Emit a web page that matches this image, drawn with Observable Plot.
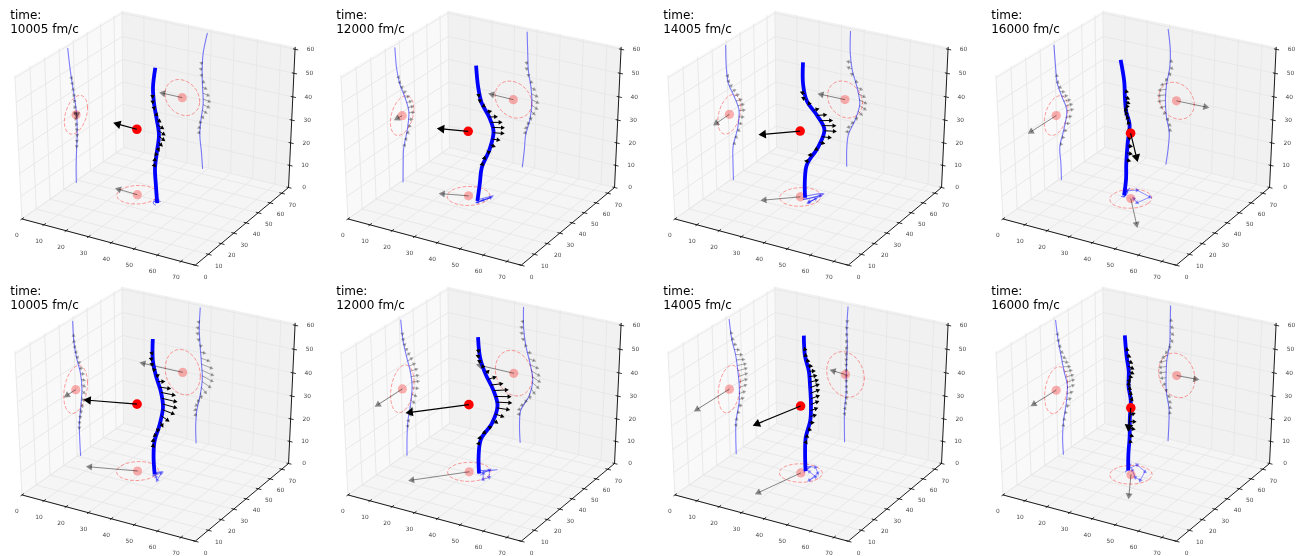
<!DOCTYPE html>
<html><head><meta charset="utf-8">
<script src="https://cdn.jsdelivr.net/npm/d3@7"></script>
<script src="https://cdn.jsdelivr.net/npm/@observablehq/plot@0.6"></script>
<style>
html,body{margin:0;padding:0;background:#fff;}
#stage{position:relative;width:1302px;height:556px;overflow:hidden;}
#stage svg{position:absolute;background:transparent;filter:blur(0.35px);}
</style></head><body><div id="stage"></div>
<script>
const times = ["10005 fm/c","12000 fm/c","14005 fm/c","16000 fm/c","10005 fm/c","12000 fm/c","14005 fm/c","16000 fm/c"];
const xTicks = [0,10,20,30,40,50,60,70];
const yTicks = [0,10,20,30,40,50,60,70];
const zTicks = [0,10,20,30,40,50,60];
const zLevels = [-0.8,7,14,21,28.5,35.5,42.7,50,59];
const stringX = [
 [37.2,36.5,35.7,36.1,37,36.6,36.3,36.6,38.3],
 [34.3,35.1,35.6,37.3,38.2,37.7,36.4,36,35.6],
 [33.1,33,33.7,36.6,38.6,37.3,35,34,34],
 [29,30,30.4,29,28.5,29,30.3,30.5,29.4],
 [34.2,33.9,34.3,35.7,36.6,36.1,35.4,34.9,35.2],
 [33.3,32.9,33.4,37,38.6,37.3,35.3,34.2,34],
 [32.1,31.9,31.9,32.5,32.5,32.6,32.8,32.5,32.9],
 [30,30.3,30.3,29,28.8,29.1,30.3,30.4,30.5]];
const stringY = [
 [39.3,39.5,40.2,41,41,40,38.5,37.2,36],
 [39.8,40.3,41,44,45.5,43,39.5,37.6,36.8],
 [42.4,42.4,42.8,46.6,47.8,44.5,40.6,39.5,39.5],
 [42.4,42.3,41.8,45.3,47.7,44.3,41.2,40.4,39.7],
 [42.5,42.2,42.2,43.7,44.8,44,41.6,40,39.5],
 [42.8,43.2,44.1,46.5,47.9,46.7,44.3,42.2,41],
 [44.5,44.5,45,47.6,48,47.2,45.9,43.5,42],
 [43.9,43.6,44.6,47,48.1,45.9,44.1,42.3,40.9]];
const redX = [27.5,29.8,31.9,33.5,27.7,30,32.1,33.6];
const redY = [40.5,40.6,40.8,39.9,40.3,40.8,40.8,39.9];
const redZ = [29,28.6,29.1,28.9,29.6,29.7,29.6,29.5];
const velX = [-8.75,-9.7,-10.7,13,-18.1,-15.5,-5.4,8.4];
const velY = [0.5,-3.5,-9.5,-18,-6.2,-17.5,-23,-16];
const velZ = [0,0.2,-0.1,0.2,0,0.1,0.4,0.3];
const radX = [7.9,8.3,7.9,8,8,8.4,8.5,8.2];
const radY = [8.5,8.6,8.5,8.7,8.7,8.6,8.2,8.4];
const radZ = [7.8,8,8,8,9.9,9.9,9.9,9.7];
const arrowZTop = [15.3,17.8,20.3,22.9,25.4,28,30.5,33,35.6,38.1,40.7,43.2,45.8];
const arrowZBottom = [12.2,14.7,17.3,19.8,22.4,24.9,27.5,30,32.5,35.1,37.6,40.2,42.7,45.2,47.8,50.3,52.9];
const arrowX = [
 [-.5,-.6,-.3,.6,1.6,2.4,2.8,2.4,1.4,.5,-.3,-.6,-.5],
 [-.6,-.9,-.5,.4,1.4,2.2,2.6,2.4,1.5,.6,-.3,-.8,-.7],
 [-1.2,-1.6,-1,.2,1.6,2.5,2.9,2.7,1.8,.5,-.8,-1.6,-1.4],
 [.7,1,.5,-.8,-2,-2.8,-3,-2.9,-2.1,-.7,.5,.9,.6],
 [-.5,-.9,-1,-.6,.4,2,3.5,4.4,4.7,4.4,3.2,1.6,.3,-.6,-.9,-.7,-.4],
 [-.8,-1.2,-1.3,-.8,.2,1.5,2.6,3.2,3.4,3.1,2.3,1.1,-.1,-1,-1.3,-1,-.5],
 [.1,.2,.3,.3,.3,.2,.1,0,-.1,-.2,-.3,-.4,-.4,-.3,-.2,-.1,0],
 [.4,.7,1.1,1,0,-1,-2,-2.6,-2.8,-2.7,-2.1,-1.1,.1,1,1.2,.9,.4]];
const arrowY = [
 [0,0,0,-.3,-.6,-.8,-.9,-.7,-.4,-.2,0,.1,.1],
 [.2,.3,.8,1.5,2.3,3,3.2,2.9,2.2,1.3,.6,.2,.1],
 [.3,.5,1.1,2,3,3.6,3.8,3.5,2.7,1.8,.9,.4,.2],
 [.4,.8,1.4,2.5,3.4,4,4.2,4,3.2,2.3,1.3,.6,.3],
 [0,.1,.2,.4,.8,1.2,1.7,1.9,2,1.8,1.4,1,.6,.3,.1,0,0],
 [.1,.3,.7,1.3,2.1,3,3.9,4.6,4.8,4.5,3.7,2.8,1.9,1.1,.5,.2,.1],
 [.1,.3,.7,1.5,2.6,3.7,4.6,5.3,5.8,5.9,5.7,5,4,2.8,1.6,.7,.2],
 [.1,.3,.7,1.5,2.5,3.5,4.3,4.8,5,4.8,4.2,3.4,2.4,1.4,.7,.3,.1]];
const arrowZ = [
 [-.2,-.4,-.5,-.6,-.6,-.6,-.5,-.4,-.3,-.2,0,.1,.1],
 [-.3,-.5,-.8,-1,-1,-1,-.8,-.6,-.4,-.1,.1,.2,.1],
 [-.3,-.6,-.9,-1.1,-1.2,-1.1,-.9,-.7,-.4,-.1,.2,.2,.1],
 [-.2,-.4,-.6,-.8,-.9,-1,-1,-1,-1,-1,-.9,-.6,-.2],
 [-.3,-.6,-1,-1.4,-1.8,-1.9,-1.6,-1.3,-1.1,-.8,-.4,0,.2,.2,.1,.1,0],
 [-.3,-.6,-1,-1.4,-1.8,-1.9,-1.7,-1.4,-1.2,-.8,-.4,0,.2,.2,.1,.1,0],
 [-.2,-.3,-.4,-.5,-.5,-.6,-.7,-.9,-1,-1.2,-1.5,-1.7,-1.6,-1.2,-.8,-.4,-.1],
 [-.1,-.2,-.3,-.4,-.5,-.6,-.7,-.9,-1,-1.2,-1.5,-1.7,-1.6,-1.2,-.8,-.4,-.1]];
const floorLoopX = [
 [35.8,37.8,37],
 [35.6,38.2,36.7,35.6],
 [34,38.3,37.3,37.9,37],
 [30.6,28.5,31.8,39.3,37.5,34.5],
 [35.2,36.8,38.5,36.5],
 [35.2,36,39.3,38.1,35.5],
 [30.9,34.5,38,38.2,38.8,34.3],
 [29.9,31.2,37,39.2,36.3,31.9]];
const floorLoopY = [
 [38.7,39.5,39.3],
 [37,43.6,39.9,37.5],
 [39.1,45.4,37.8,42.4,39],
 [39.4,45.1,47.7,44.9,37.9,40.5],
 [39.8,43.2,37,39.5],
 [40.4,46.2,40.4,37.5,42.4],
 [46.9,48.2,43.9,36.8,40.8,43.5],
 [42.7,48.8,45,37.4,38.6,43.8]];

const xMax = 76, yMax = 76, zMax = 61;
const colLeft = [0,326.3,653,980.5], rowTop = [0,276];
const W = 322, H = 280;
const DEG = Math.PI/180, el = 30*DEG, az = -60*DEG, dist = 10;
const n = [Math.cos(el)*Math.cos(az),Math.cos(el)*Math.sin(az),Math.sin(el)];
const u = [-n[1],n[0],0].map(v=>v/Math.hypot(n[0],n[1]));
const v3 = [n[1]*u[2]-n[2]*u[1],n[2]*u[0]-n[0]*u[2],n[0]*u[1]-n[1]*u[0]];
const dot3 = (a,b)=>a[0]*b[0]+a[1]*b[1]+a[2]*b[2];
function proj(x,y,z){
  const p=[x/xMax-.5,y/yMax-.5,z/zMax-.5];
  const d=dist-dot3(n,p);
  return [dot3(u,p)/d,dot3(v3,p)/d];
}
const kx=2000, ky=1640, cx=156.8, cy=133.2;
const pt = (x,y,z)=>{const q=proj(x,y,z);return {x:q[0],y:q[1]};};
const seg = (a,b)=>{const p=proj(...a),q=proj(...b);return {x1:p[0],y1:p[1],x2:q[0],y2:q[1]};};

function panel(i){
  const sx=stringX[i], sy=stringY[i];
  const azs = i<4?arrowZTop:arrowZBottom;
  const at = z=>{let k=0;while(k<zLevels.length-2&&z>zLevels[k+1])k++;
    const t=(z-zLevels[k])/(zLevels[k+1]-zLevels[k]);
    return [sx[k]+t*(sx[k+1]-sx[k]),sy[k]+t*(sy[k+1]-sy[k])];};
  const panes=[
    [[0,0,0],[0,yMax,0],[0,yMax,zMax],[0,0,zMax],[0,0,0]].map(p=>pt(...p)),
    [[0,yMax,0],[xMax,yMax,0],[xMax,yMax,zMax],[0,yMax,zMax],[0,yMax,0]].map(p=>pt(...p)),
    [[0,0,0],[xMax,0,0],[xMax,yMax,0],[0,yMax,0],[0,0,0]].map(p=>pt(...p))];
  const paneFill=["#f9f9f9","#f1f1f1","#f5f5f5"];
  const grid=[];
  xTicks.forEach(t=>{grid.push(seg([t,0,0],[t,yMax,0]),seg([t,yMax,0],[t,yMax,zMax]));});
  yTicks.forEach(t=>{grid.push(seg([0,t,0],[xMax,t,0]),seg([0,t,0],[0,t,zMax]));});
  zTicks.forEach(t=>{grid.push(seg([0,0,t],[0,yMax,t]),seg([0,yMax,t],[xMax,yMax,t]));});
  const axes=[seg([0,0,0],[xMax,0,0]),seg([xMax,0,0],[xMax,yMax,0]),seg([xMax,yMax,0],[xMax,yMax,zMax])];
  const ticks=[
    ...xTicks.map(t=>seg([t,-1,0],[t,1.4,0])),
    ...yTicks.map(t=>seg([xMax-1,t,0],[xMax+1.4,t,0])),
    ...zTicks.map(t=>seg([xMax-.9,yMax,t],[xMax+1.3,yMax,t]))];
  const lineOf=f=>zLevels.map((z,k)=>pt(...f(sx[k],sy[k],z)));
  const main=lineOf((x,y,z)=>[x,y,z]);
  const left=lineOf((x,y,z)=>[0,y,z]);
  const back=lineOf((x,y,z)=>[x,yMax,z]);
  const flo=lineOf((x,y,z)=>[x,y,0]);
  const loopPts=floorLoopX[i].map((x,k)=>[x,floorLoopY[i][k],0]);
  const loopArrows=loopPts.slice(1).map((p,k)=>seg(loopPts[k],p));
  const mainArrows=[],leftArrows=[],backArrows=[];
  azs.forEach((z,k)=>{
    const [x,y]=at(z), ax=arrowX[i][k], ay=arrowY[i][k], az2=arrowZ[i][k];
    mainArrows.push(seg([x,y,z],[x+ax,y+ay,z+az2]));
    leftArrows.push(seg([0,y,z],[0,y+ay,z+az2]));
    backArrows.push(seg([x,yMax,z],[x+ax,yMax,z+az2]));
  });
  const rx=redX[i],ry=redY[i],rz=redZ[i],vx=velX[i],vy=velY[i],vz=velZ[i];
  const angles=d3.range(0,361,8).map(a=>a*DEG);
  const ringLeft=angles.map(a=>pt(0,ry+radY[i]*Math.cos(a),rz+radZ[i]*Math.sin(a)));
  const ringBack=angles.map(a=>pt(rx+radX[i]*Math.cos(a),yMax,rz+radZ[i]*Math.sin(a)));
  const ringFloor=angles.map(a=>pt(rx+radX[i]*Math.cos(a),ry+radY[i]*Math.sin(a),0));
  const pink=[pt(0,ry,rz),pt(rx,yMax,rz),pt(rx,ry,0)];
  const shadow=[seg([0,ry,rz],[0,ry+vy,rz+vz]),seg([rx,yMax,rz],[rx+vx,yMax,rz+vz]),seg([rx,ry,0],[rx+vx,ry+vy,0])];
  const red=[pt(rx,ry,rz)];
  const redArrow=[seg([rx,ry,rz],[rx+vx,ry+vy,rz+vz])];
  const arrows=(data,color,op,sw,r)=>[
    Plot.link(data,{x1:"x1",y1:"y1",x2:"x2",y2:"y2",stroke:color,strokeOpacity:op,strokeWidth:sw}),
    Plot.dot(data,{x:"x2",y:"y2",symbol:"triangle",r,fill:color,fillOpacity:op,stroke:"none",
      rotate:d=>Math.atan2((d.x2-d.x1)*kx,(d.y2-d.y1)*ky)/DEG})];
  const font="DejaVu Sans";
  const labels=(vals,f,o)=>Plot.text(vals.map(t=>({...pt(...f(t)),t})),{x:"x",y:"y",text:d=>String(d.t),fontSize:5.9,fill:"#444",fontFamily:font,...o});
  const ring=(data)=>Plot.line(data,{x:"x",y:"y",stroke:"#ff0000",strokeOpacity:.42,strokeWidth:.9,strokeDasharray:"3,2.6"});
  const thin=(data)=>Plot.line(data,{x:"x",y:"y",stroke:"#0000ff",strokeOpacity:.5,strokeWidth:1.1,curve:"catmull-rom"});
  const svg=Plot.plot({
    width:W,height:H,margin:0,
    style:{background:"transparent"},
    x:{domain:[-cx/kx,(W-cx)/kx],range:[0,W],axis:null},
    y:{domain:[cy/ky,(cy-H)/ky],range:[0,H],axis:null},
    marks:[
      ...panes.map((p,k)=>Plot.line(p,{x:"x",y:"y",stroke:"none",fill:paneFill[k]})),
      Plot.link(grid,{x1:"x1",y1:"y1",x2:"x2",y2:"y2",stroke:"#e6e6e6",strokeWidth:0.9}),
      ring(ringLeft),ring(ringBack),ring(ringFloor),
      thin(left),thin(back),thin(flo),
      ...arrows(loopArrows,"#0000ff",.42,1,1.6),
      ...arrows(leftArrows,"#000",.33,1,1.5),
      ...arrows(backArrows,"#000",.33,1,1.5),
      Plot.dot(pink,{x:"x",y:"y",r:4.6,fill:"#ff0000",fillOpacity:.3,stroke:"none"}),
      ...arrows(shadow,"#000",.45,1,2.6),
      Plot.line(main,{x:"x",y:"y",stroke:"#0000ff",strokeWidth:3.8,curve:"catmull-rom",strokeLinecap:"butt",strokeLinejoin:"round"}),
      ...arrows(mainArrows,"#000",1,1,1.7),
      Plot.dot(red,{x:"x",y:"y",r:4.8,fill:"#ff0000",stroke:"none"}),
      ...arrows(redArrow,"#000",1,1.2,3.2),
      Plot.link(axes,{x1:"x1",y1:"y1",x2:"x2",y2:"y2",stroke:"#000",strokeWidth:.9}),
      Plot.link(ticks,{x1:"x1",y1:"y1",x2:"x2",y2:"y2",stroke:"#000",strokeWidth:.8}),
      labels(xTicks,t=>[t,0,0],{dx:-5,dy:16}),
      labels(yTicks,t=>[xMax,t,0],{dx:10.5,dy:11.5}),
      labels(zTicks,t=>[xMax,yMax,t],{dx:15.5,dy:0}),
      Plot.text([`time:\n${times[i]}`],{frameAnchor:"top-left",dx:9.7,dy:8.5,lineHeight:1.15,fontSize:12,fontFamily:font,fill:"#000",textAnchor:"start"})
    ]
  });
  svg.style.left=colLeft[i%4]+"px";
  svg.style.top=rowTop[i<4?0:1]+"px";
  return svg;
}
const stage=document.getElementById("stage");
times.forEach((_,i)=>stage.appendChild(panel(i)));
</script></body></html>
